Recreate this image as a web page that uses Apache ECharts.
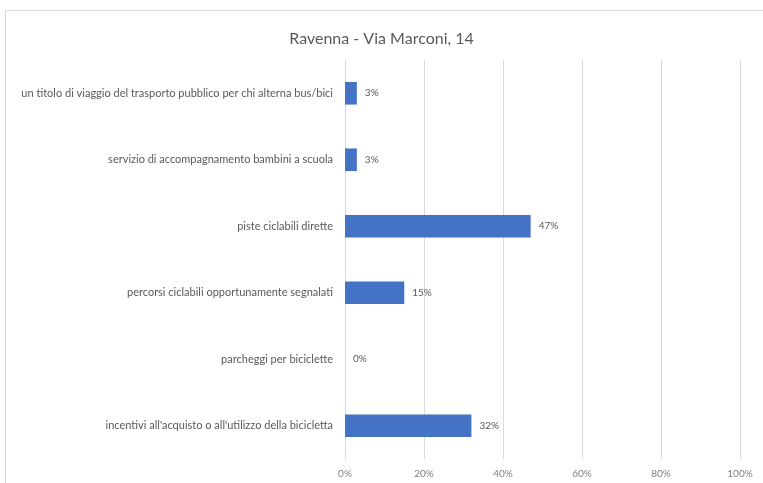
<!DOCTYPE html>
<html>
<head>
<meta charset="utf-8">
<script src="https://cdn.jsdelivr.net/npm/echarts@6/dist/echarts.min.js"></script>
<style>
  html, body { margin: 0; padding: 0; background: #fff; }
  #chart { width: 763px; height: 483px; }
</style>
</head>
<body>
<div id="chart"></div>
<script>
// categories bottom to top (Excel order)
var categories = [
    "incentivi all'acquisto o all'utilizzo della bicicletta",
    "parcheggi per biciclette",
    "percorsi ciclabili opportunamente segnalati",
    "piste ciclabili dirette",
    "servizio di accompagnamento bambini a scuola",
    "un titolo di viaggio del trasporto pubblico per chi alterna bus/bici"
];
var values = [32, 0, 15, 47, 3, 3];

var chart = echarts.init(document.getElementById('chart'));
var option = {
    animation: false,
    backgroundColor: '#fff',
    textStyle: { fontFamily: 'Lato' },
    title: {
        text: 'Ravenna - Via Marconi, 14',
        left: 'center',
        top: 26,
        textStyle: { fontFamily: 'Lato', fontSize: 16, fontWeight: 'normal', color: '#595959' }
    },
    graphic: [{
        type: 'rect',
        shape: { x: 5.5, y: 10.5, width: 800, height: 500 },
        style: { fill: 'none', stroke: '#d9d9d9', lineWidth: 1 }
    }],
    grid: { left: 345, right: 23, top: 60, bottom: 24 },
    xAxis: {
        type: 'value',
        min: 0,
        max: 100,
        interval: 20,
        axisLabel: { formatter: '{value}%', color: '#7f7f7f', fontSize: 10, margin: 10 },
        splitLine: { lineStyle: { color: '#d9d9d9' } },
        axisLine: { show: false },
        axisTick: { show: false }
    },
    yAxis: {
        type: 'category',
        data: categories,
        axisLine: { show: true, lineStyle: { color: '#d9d9d9' } },
        axisTick: { show: false },
        axisLabel: { color: '#595959', fontSize: 11, margin: 12 }
    },
    series: [{
        type: 'bar',
        data: values,
        barWidth: '34%',
        itemStyle: { color: '#4472C4' },
        label: {
            show: true,
            position: 'right',
            distance: 8,
            formatter: '{c}%',
            color: '#595959',
            fontSize: 10
        }
    }]
};
chart.setOption(option);
</script>
</body>
</html>
